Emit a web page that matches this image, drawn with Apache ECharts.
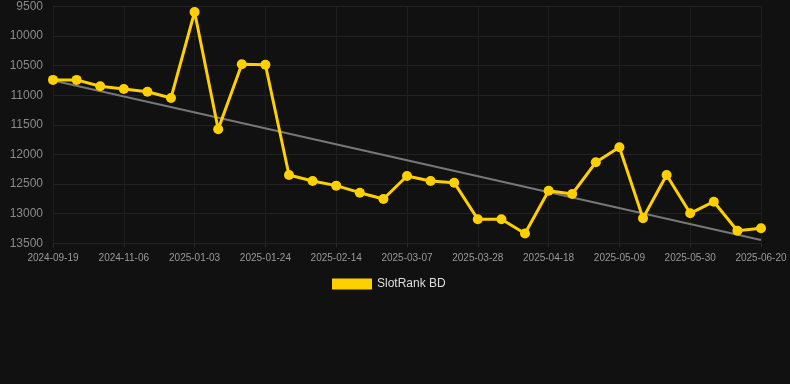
<!DOCTYPE html>
<html>
<head>
<meta charset="utf-8">
<script src="https://cdn.jsdelivr.net/npm/echarts@6/dist/echarts.min.js"></script>
<style>
html,body{margin:0;padding:0;background:#111111;}
#chart{width:790px;height:384px;}
</style>
</head>
<body>
<div id="chart"></div>
<script>
var dates = ["2024-09-19","2024-10-03","2024-10-17","2024-11-06","2024-11-20","2024-12-10",
  "2025-01-03","2025-01-10","2025-01-17","2025-01-24","2025-01-31","2025-02-07",
  "2025-02-14","2025-02-21","2025-02-28","2025-03-07","2025-03-14","2025-03-21",
  "2025-03-28","2025-04-04","2025-04-11","2025-04-18","2025-04-25","2025-05-02",
  "2025-05-09","2025-05-16","2025-05-23","2025-05-30","2025-06-06","2025-06-13","2025-06-20"];
var rankValues = [10740,10740,10848,10893,10939,11045,
  9593,11574,10476,10483,12346,12447,
  12526,12645,12751,12363,12447,12476,
  13094,13094,13335,12611,12667,12132,
  11878,13077,12346,12993,12797,13287,13246];
var trendStart = 10750;
var trendEnd = 13445;
var seriesName = "SlotRank BD";
var yTicks = {min: 9500, max: 13500, interval: 500};

var trendData = dates.map(function(d, i){
  if (i === 0) return trendStart;
  if (i === dates.length - 1) return trendEnd;
  return null;
});

var chart = echarts.init(document.getElementById('chart'));
chart.setOption({
  backgroundColor: '#111111',
  animation: false,
  grid: {left: 53, right: 29, top: 6.5, bottom: 140.7, containLabel: false},
  legend: {
    data: [seriesName],
    top: 273,
    left: 327,
    icon: 'rect',
    itemWidth: 40,
    itemHeight: 11,
    itemGap: 10,
    textStyle: {color: '#dddddd', fontSize: 12, fontFamily: 'Liberation Sans, Arial, sans-serif'}
  },
  xAxis: {
    type: 'category',
    data: dates,
    boundaryGap: false,
    axisLine: {show: false},
    axisTick: {show: true, interval: 2, length: 4, lineStyle: {color: '#2a2a2a'}},
    axisLabel: {interval: 2, color: '#999999', fontSize: 10, margin: 10, fontFamily: 'Liberation Sans, Arial, sans-serif'},
    splitLine: {show: true, interval: 2, lineStyle: {color: '#1e1e1e', width: 1}}
  },
  yAxis: {
    type: 'value',
    inverse: true,
    min: yTicks.min,
    max: yTicks.max,
    interval: yTicks.interval,
    axisLine: {show: false},
    axisTick: {show: false},
    axisLabel: {color: '#8a8a8a', fontSize: 12, margin: 10, fontFamily: 'Liberation Sans, Arial, sans-serif',
      formatter: function(v){ return String(v); }},
    splitLine: {show: true, lineStyle: {color: '#222222', width: 1}}
  },
  series: [
    {
      name: 'trend',
      type: 'line',
      data: trendData,
      connectNulls: true,
      symbol: 'none',
      silent: true,
      lineStyle: {color: '#777777', width: 2},
      z: 1
    },
    {
      name: seriesName,
      type: 'line',
      data: rankValues,
      symbol: 'circle',
      symbolSize: 10,
      itemStyle: {color: '#FFD000'},
      lineStyle: {color: '#FFD000', width: 3},
      z: 2
    }
  ]
});
</script>
</body>
</html>
